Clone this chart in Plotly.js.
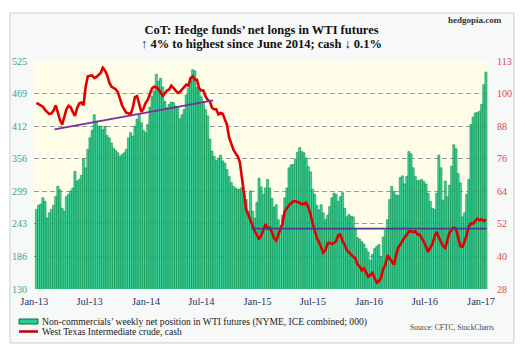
<!DOCTYPE html>
<html><head><meta charset="utf-8">
<script src="https://cdn.plot.ly/plotly-3.0.1.min.js"></script>
<style>html,body{margin:0;padding:0;background:#fff;}#chart{width:525px;height:347px;}</style>
</head><body><div id="chart"></div>
<script>
// ---- data ----
const firstWeek = '2013-01-08';
const netLongs = [
268,275,277,288,282,253,262,268,275,290,
308,302,270,265,290,294,300,305,334,317,
320,327,356,340,372,392,405,432,421,412,
412,406,412,396,392,383,374,370,366,360,
363,366,372,392,401,395,412,424,432,418,
405,401,415,445,464,473,502,490,495,480,
455,444,450,454,453,447,445,425,432,441,
466,478,493,510,508,479,475,463,455,441,
430,390,369,360,353,357,362,352,348,337,
325,315,308,305,303,303,306,295,285,265,
300,265,253,280,322,307,294,305,320,305,
287,272,276,250,237,258,288,305,340,345,
346,355,367,375,368,366,357,342,333,303,
294,275,267,276,262,250,258,273,288,296,
294,282,290,297,270,255,259,256,255,235,
219,216,212,208,200,194,180,190,200,204,
207,186,220,232,250,285,308,299,293,292,
323,326,312,325,368,364,340,325,318,318,
320,316,312,296,282,270,268,296,362,340,
284,317,290,310,343,380,373,330,314,255,
262,294,320,415,428,435,436,438,450,484,506];
const wtiCash = [
97.4,97,96.6,96,94.8,94,93.2,93.5,94.5,96.5,
93.7,91,89.3,92.5,95,96.3,95.8,94,92.5,95.5,
97.2,97.5,96.5,103.5,107.3,107.5,107.6,106.7,107,107.8,
108.5,110.5,109.5,107.8,105,103.5,103,102.5,101.5,98.5,
96.5,95,93.7,93.5,93.1,95.5,99.5,99.9,96.5,94,
95.2,97.4,98.5,100.5,102.8,103.4,103.2,102.5,101,100,
101,102,102.4,103.8,103,101.8,101.1,101.5,102.5,103.4,
104.2,103.8,106.7,107.3,106,106,102.8,102,102,99.8,
98.5,98,95.6,95,95,93.1,93.6,93.3,91.5,89.3,
84.5,81.8,80,78.6,77.5,75.4,69.5,62,57.5,55.7,
53.5,51.5,49.5,48.2,46.5,47.9,50.5,52.2,50.6,50.8,
49.2,47,46.1,48.3,50,52.5,57,58.3,59.2,60,
60.7,60.7,60.5,60.1,59.6,59.8,60.1,58.5,56,52.5,
49.5,47,45.5,43.3,41.5,42.5,45,45.2,44.8,45.2,
45.8,48,48.3,45.8,44.5,42.5,41.6,40.7,40,39.4,
37.1,36.4,35,35.7,34,32.6,33.2,34,32,30.4,
30.9,32.2,35.5,36.9,40.6,39.4,37.9,37.1,40.5,43.5,
44.6,46,47.2,48.2,49.5,49.5,49.2,49.5,48.3,48.3,
47,45.6,43.8,41.8,43.3,44.8,47.5,49.3,47.2,45.6,
44,43.3,46.5,49,50.1,50.9,50.5,47,44,43.8,
45.6,48.3,51.4,52.4,52.4,53.3,54.2,53.6,53.9,53.3,53.9];
const leftTickLabels = ['130','186','243','299','356','412','469','525'];
const rightTickLabels = ['28','40','52','64','76','88','100','113'];
const xTickDates = ['2013-01-01','2013-07-01','2014-01-01','2014-07-01','2015-01-01','2015-07-01','2016-01-01','2016-07-01','2017-01-01'];
const xTickLabels = ['Jan-13','Jul-13','Jan-14','Jul-14','Jan-15','Jul-15','Jan-16','Jul-16','Jan-17'];
const trend1Dates = ['2013-03-08','2014-08-09'];
const trend1Values = [87.5, 98.3];
const trend2Dates = ['2014-12-12','2017-01-19'];
const trend2Values = [50.5, 50.5];
const titleLines = ['CoT: Hedge funds’ net longs in WTI futures', '↑ 4% to highest since June 2014; cash ↓ 0.1%'];
const legendLabels = ['Non-commercials’ weekly net position in WTI futures (NYME, ICE combined; 000)', 'West Texas Intermediate crude, cash'];
const sourceText = 'Source: CFTC, StockCharts';
const brandText = 'hedgopia.com';

// ---- build ----
const t0 = Date.parse(firstWeek + 'T00:00:00Z');
const weeks = netLongs.map((_, i) => new Date(t0 + i * 7 * 86400000).toISOString().slice(0, 10));
const leftRange = [130, 525], rightRange = [28, 113];
const leftTicks = leftTickLabels.map((_, i) => leftRange[0] + i * (leftRange[1] - leftRange[0]) / 7);
const rightTicks = rightTickLabels.map((_, i) => rightRange[0] + i * (rightRange[1] - rightRange[0]) / 7);

const L = 34, R = 489, T = 61, B = 289, W = 525, H = 347;
const px = x => (x - L) / (R - L);
const py = y => (B - y) / (B - T);
const serif = 'Liberation Serif, Times New Roman, serif';

const traces = [
  {type: 'bar', x: weeks, y: netLongs, yaxis: 'y', name: legendLabels[0],
   marker: {color: 'rgba(38,202,142,0.88)', line: {color: 'rgb(0,130,65)', width: 0.5}}, hoverinfo: 'skip'},
  {type: 'scatter', mode: 'lines', x: weeks, y: wtiCash, yaxis: 'y2', name: legendLabels[1],
   line: {color: 'rgb(225,0,0)', width: 2.6}, hoverinfo: 'skip'},
  {type: 'scatter', mode: 'lines', x: trend1Dates, y: trend1Values, yaxis: 'y2', showlegend: false,
   line: {color: '#7a2fa0', width: 1.8}, hoverinfo: 'skip'},
  {type: 'scatter', mode: 'lines', x: trend2Dates, y: trend2Values, yaxis: 'y2', showlegend: false,
   line: {color: '#4a3a92', width: 1.8}, hoverinfo: 'skip'}
];

const layout = {
  width: W, height: H,
  margin: {l: L, r: W - R, t: T, b: H - B, pad: 0},
  paper_bgcolor: '#ffffff', plot_bgcolor: 'rgba(0,0,0,0)',
  showlegend: false, bargap: 0,
  title: {text: '<b>' + titleLines[0] + '</b>',
          font: {family: serif, size: 12.5, color: '#111'},
          x: px(261.5), xref: 'paper', xanchor: 'center', yref: 'container', y: 1 - 30 / H, yanchor: 'middle'},
  xaxis: {type: 'date', range: ['2012-12-31', '2017-01-27'], tickvals: xTickDates, ticktext: xTickLabels,
          showgrid: false, zeroline: false, showline: false, ticks: '', ticklabelstandoff: 4,
          tickfont: {family: serif, size: 10.5, color: '#1f3568'}},
  yaxis: {range: leftRange, tickvals: leftTicks, ticktext: leftTickLabels, showgrid: true,
          gridcolor: '#9a9a9a', griddash: '5px,3px', gridwidth: 1, zeroline: false, showline: false,
          ticks: '', ticklabelstandoff: 6, tickfont: {family: serif, size: 10, color: '#35a889'}},
  yaxis2: {range: rightRange, overlaying: 'y', side: 'right', tickvals: rightTicks, ticktext: rightTickLabels,
           showgrid: false, zeroline: false, showline: false, ticks: '', ticklabelstandoff: 7,
           tickfont: {family: serif, size: 10, color: '#d84848'}},
  shapes: [
    {type: 'rect', xref: 'paper', yref: 'paper', x0: px(10), x1: px(514), y0: py(343), y1: py(13),
     fillcolor: '#f7f8f8', line: {color: '#c5cedb', width: 1}, layer: 'below'},
    {type: 'rect', xref: 'paper', yref: 'paper', x0: 0, x1: 1, y0: 0, y1: 1,
     fillcolor: '#fdfde8', line: {width: 0}, layer: 'below'},
    {type: 'rect', xref: 'paper', yref: 'paper', x0: px(19), x1: px(38), y0: py(324), y1: py(319),
     fillcolor: 'rgb(40,205,145)', line: {color: 'rgb(0,120,60)', width: 1}},
    {type: 'line', xref: 'paper', yref: 'paper', x0: px(19), x1: px(38), y0: py(331.5), y1: py(331.5),
     line: {color: '#c00000', width: 2.5}}
  ],
  annotations: [
    {xref: 'paper', yref: 'paper', x: px(261.5), y: py(44), xanchor: 'center', yanchor: 'middle', showarrow: false,
     text: '<b>' + titleLines[1] + '</b>', font: {family: serif, size: 12.5, color: '#111'}},
    {xref: 'paper', yref: 'paper', x: px(40), y: py(321.5), xanchor: 'left', yanchor: 'middle', showarrow: false,
     text: legendLabels[0], font: {family: serif, size: 9.6, color: '#222'}},
    {xref: 'paper', yref: 'paper', x: px(40), y: py(331.5), xanchor: 'left', yanchor: 'middle', showarrow: false,
     text: legendLabels[1], font: {family: serif, size: 9.6, color: '#222'}},
    {xref: 'paper', yref: 'paper', x: px(496), y: py(327), xanchor: 'right', yanchor: 'middle', showarrow: false,
     text: sourceText, font: {family: serif, size: 7.5, color: '#444'}},
    {xref: 'paper', yref: 'paper', x: px(504), y: py(20), xanchor: 'right', yanchor: 'middle', showarrow: false,
     text: '<b>' + brandText + '</b>', font: {family: serif, size: 9, color: '#333'}}
  ]
};

Plotly.newPlot('chart', traces, layout, {displayModeBar: false, staticPlot: true});
</script>
</body></html>
